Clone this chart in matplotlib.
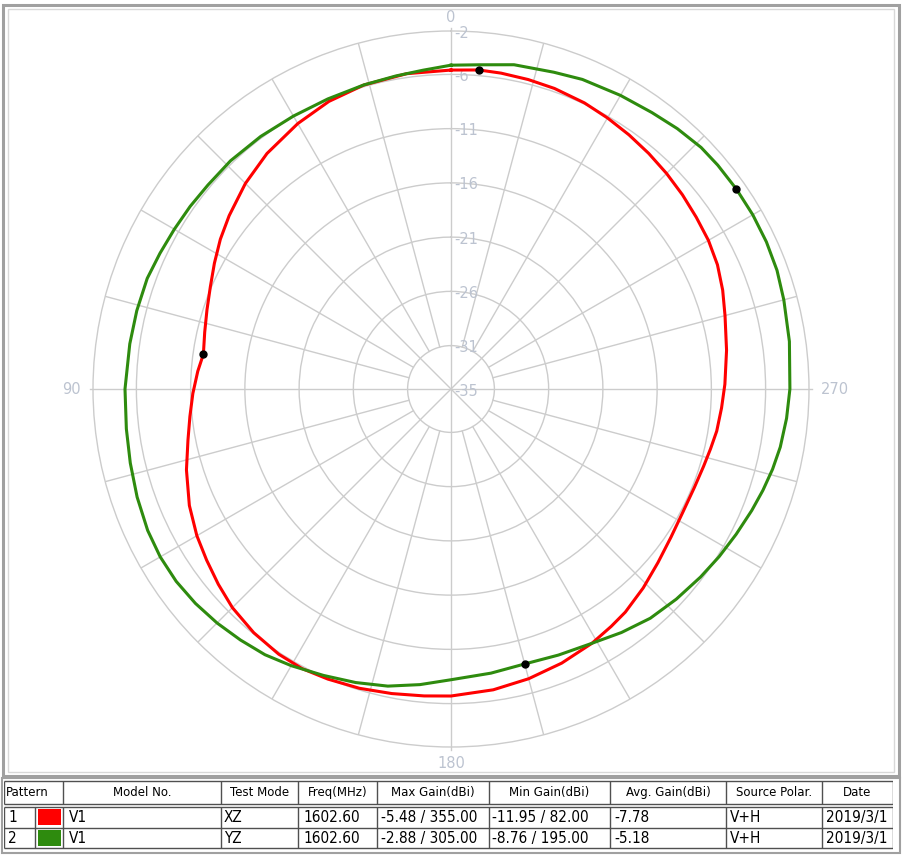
import numpy as np
import matplotlib.pyplot as plt
from matplotlib.patches import Rectangle

# pattern data (angle in deg, gain in dBi)
xz_angles = [0, 8, 16, 23, 30, 38, 45, 52, 57, 62, 67, 72, 77, 82, 86, 91, 96, 101, 107, 114,
             120, 125, 130, 135, 141, 147, 152, 157, 163, 169, 175, 180, 188, 195, 202, 209,
             214, 218, 224, 230, 236, 242, 248, 253, 257, 261, 266, 271, 278, 285, 290, 295,
             300, 305, 310, 315, 320, 325, 330, 335, 341, 346, 351, 355]
xz_gain = [-5.6, -5.65, -5.85, -6.2, -6.75, -7.45, -8.2, -9.05, -9.65, -10.3, -10.9, -11.35,
           -11.7, -11.95, -11.6, -11.2, -10.8, -10.3, -9.5, -8.6, -7.95, -7.5, -7.0, -6.5,
           -6.1, -5.85, -5.8, -5.95, -6.15, -6.4, -6.6, -6.7, -7.0, -7.35, -7.75, -8.2,
           -8.6, -8.9, -9.5, -10.1, -10.55, -10.8, -10.8, -10.65, -10.45, -10.2, -10.0, -9.75,
           -9.35, -8.85, -8.35, -7.9, -7.6, -7.4, -7.15, -6.9, -6.65, -6.4, -6.15, -5.9,
           -5.7, -5.6, -5.52, -5.48]

yz_angles = [0, 5, 10, 16, 23, 30, 37, 44, 50, 55, 60, 65, 70, 76, 82, 90, 97, 103, 109, 115,
             120, 125, 130, 135, 140, 145, 150, 156, 162, 168, 174, 180, 188, 195, 202, 209,
             215, 221, 227, 233, 238, 243, 248, 252, 256, 260, 265, 270, 278, 285, 290, 295,
             300, 305, 310, 314, 319, 324, 330, 337, 342, 349, 355]
yz_gain = [-5.15, -5.5, -5.7, -5.84, -5.95, -5.95, -5.85, -5.75, -5.75, -5.65, -5.55, -5.4,
           -5.2, -5.15, -5.1, -4.95, -4.85, -4.66, -4.4, -4.15, -4.05, -4.08, -4.25, -4.5,
           -4.8, -5.1, -5.55, -6.1, -6.55, -7.0, -7.6, -8.2, -8.55, -8.76, -8.55, -8.2,
           -7.6, -7.0, -6.6, -6.2, -5.85, -5.5, -5.1, -4.77, -4.45, -4.18, -3.95, -3.76,
           -3.5, -3.24, -3.02, -2.92, -2.88, -2.88, -2.9, -2.95, -3.2, -3.5, -3.75, -4.0,
           -4.3, -4.55, -5.0]

# max / min markers (from the table)
xz_marks = [(355.0, -5.48), (82.0, -11.95)]
yz_marks = [(305.0, -2.88), (195.0, -8.76)]

ring_values = [-31, -26, -21, -16, -11, -6]
ring_labels = ["-2", "-6", "-11", "-16", "-21", "-26", "-31", "-35"]
ring_label_pos = [-2, -6, -11, -16, -21, -26, -31, -35]

# table contents
headers = ["Pattern", "Model No.", "Test Mode", "Freq(MHz)", "Max Gain(dBi)",
           "Min Gain(dBi)", "Avg. Gain(dBi)", "Source Polar.", "Date"]
row_ids = ["1", "2"]
row_colors = ["#ff0000", "#2e8b0e"]
models = ["V1", "V1"]
modes = ["XZ", "YZ"]
freqs = ["1602.60", "1602.60"]
max_gain = ["-5.48 / 355.00", "-2.88 / 305.00"]
min_gain = ["-11.95 / 82.00", "-8.76 / 195.00"]
avg_gain = ["-7.78", "-5.18"]
polar = ["V+H", "V+H"]
dates = ["2019/3/1", "2019/3/1"]

W, H = 904, 864
fig = plt.figure(figsize=(W / 100, H / 100), dpi=100)
fig.patch.set_facecolor("white")

def fx(px):
    return px / W

def fy(py):
    return 1 - py / H

# outer panel frames
fig.patches.append(Rectangle((fx(3), fy(776)), fx(896), 771 / H, transform=fig.transFigure,
                             fill=False, ec="#a0a0a0", lw=2.2))
fig.patches.append(Rectangle((fx(8), fy(772)), fx(886), 763 / H, transform=fig.transFigure,
                             fill=False, ec="#d8d8d8", lw=1.0))

cx, cy, R = 451, 389, 358
ax = fig.add_axes([fx(cx - R), fy(cy + R), 2 * R / W, 2 * R / H], projection="polar")
ax.set_theta_zero_location("N")
ax.set_theta_direction(1)
ax.set_ylim(-35, -2)
ax.set_xticks([])
ax.set_yticks(ring_values)
ax.set_yticklabels([])
ax.yaxis.grid(True, color="#cccccc", lw=1)
ax.spines["polar"].set_color("#cccccc")
ax.spines["polar"].set_linewidth(1)

grid_c = "#cccccc"
for ang in range(0, 360, 15):
    t = np.deg2rad(ang)
    if ang % 90 == 0:
        ax.plot([t, t], [-35, -1.7], color=grid_c, lw=1, clip_on=False, zorder=1)
    elif ang % 45 == 0:
        ax.plot([t, t], [-35, -2], color=grid_c, lw=1, zorder=1)
    else:
        ax.plot([t, t], [-31, -2], color=grid_c, lw=1, zorder=1)

lab_c = "#bcc3d0"
for lab, v in zip(ring_labels, ring_label_pos):
    ax.annotate(lab, (0, v), xytext=(2, -1.5), textcoords="offset points",
                ha="left", va="center", color=lab_c, fontsize=10.5)

ax.text(0, -0.8, "0", ha="center", va="center", color=lab_c, fontsize=10.5, clip_on=False)
ax.text(np.deg2rad(90), -0.9, "90", ha="right", va="center", color=lab_c, fontsize=10.5, clip_on=False)
ax.text(np.deg2rad(270), -0.95, "270", ha="left", va="center", color=lab_c, fontsize=10.5, clip_on=False)
ax.text(np.deg2rad(180), -1.2, "180", ha="center", va="top", color=lab_c, fontsize=10.5, clip_on=False)

t_xz = np.deg2rad(np.append(xz_angles, xz_angles[0]))
g_xz = np.append(xz_gain, xz_gain[0])
t_yz = np.deg2rad(np.append(yz_angles, yz_angles[0]))
g_yz = np.append(yz_gain, yz_gain[0])
ax.plot(t_xz, g_xz, color="#ff0000", lw=2.2, zorder=3)
ax.plot(t_yz, g_yz, color="#2e8b0e", lw=2.2, zorder=4)

for a, g in xz_marks + yz_marks:
    ax.plot(np.deg2rad(a), g, "o", color="black", ms=5, zorder=5)

# table
tx0, tx1 = 4, 893
tab = fig.add_axes([fx(tx0), fy(851), (tx1 - tx0) / W, 71 / H])
tab.set_xlim(tx0, tx1)
tab.set_ylim(851, 780)
tab.axis("off")

fig.patches.append(Rectangle((fx(2), fy(853)), fx(898), 75 / H, transform=fig.transFigure,
                             fill=False, ec="#a0a0a0", lw=1.5))

cols = [4, 63, 221, 298, 377, 489, 610, 726, 822, 893]
line_c = "#505050"
# header
tab.hlines([781, 804], 4, 893, color=line_c, lw=1)
tab.vlines(cols, 781, 804, color=line_c, lw=1)
for i, h in enumerate(headers):
    if i == 0:
        tab.text(6, 792.5, h, ha="left", va="center", fontsize=8.5, family="DejaVu Sans")
    else:
        tab.text((cols[i] + cols[i + 1]) / 2, 792.5, h, ha="center", va="center",
                 fontsize=8.5, family="DejaVu Sans")

row_top = [807, 828]
row_bot = [827, 848]
tab.hlines([807, 827.5, 848], 4, 893, color=line_c, lw=1)
tab.vlines([4, 35] + cols[1:], 807, 848, color=line_c, lw=1)
for r in range(2):
    ym = (row_top[r] + row_bot[r]) / 2
    tab.add_patch(Rectangle((38, row_top[r] + 2), 23, row_bot[r] - row_top[r] - 4,
                            fc=row_colors[r], ec="none"))
    vals = [row_ids[r], models[r], modes[r], freqs[r], max_gain[r], min_gain[r],
            avg_gain[r], polar[r], dates[r]]
    xs = [8, 69, 224, 303, 381, 492, 614, 730, 826]
    for x, v in zip(xs, vals):
        tab.text(x, ym + 0.5, v, ha="left", va="center", fontsize=11,
                 family="DejaVu Sans", stretch="condensed", clip_on=True)

fig.savefig("out.png", dpi=100)
